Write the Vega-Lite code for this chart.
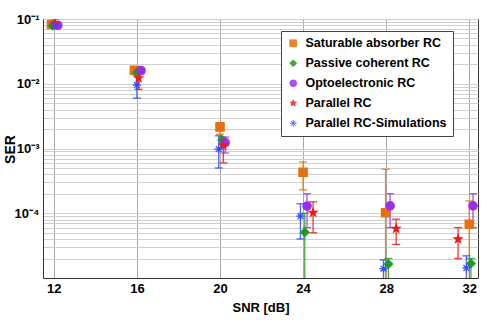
{
  "$schema": "https://vega.github.io/schema/vega-lite/v6.json",
  "width": 435,
  "height": 259,
  "autosize": {"type": "none"},
  "padding": {"left": 43, "top": 19, "right": 13, "bottom": 42},
  "background": "white",
  "config": {
    "font": "Liberation Sans",
    "view": {"stroke": "#333", "strokeWidth": 1},
    "axis": {"labelFont": "Liberation Sans", "labelFontWeight": "bold", "labelFontSize": 13, "labelColor": "black", "titleFont": "Liberation Sans", "titleFontWeight": "bold", "titleFontSize": 13, "titleColor": "black", "domainColor": "#333", "tickColor": "#333"}
  },
  "data": {"values": [
    {"series": "Saturable absorber RC", "x": 11.89, "y": 0.082, "lo": 0.075, "hi": 0.09},
    {"series": "Saturable absorber RC", "x": 15.88, "y": 0.0162, "lo": 0.015, "hi": 0.0175},
    {"series": "Saturable absorber RC", "x": 20.0, "y": 0.00215, "lo": 0.00166, "hi": 0.0025},
    {"series": "Saturable absorber RC", "x": 24.0, "y": 0.00043, "lo": 0.00023, "hi": 0.00062},
    {"series": "Saturable absorber RC", "x": 27.97, "y": 0.000102, "lo": 0.000001, "hi": 0.00048},
    {"series": "Saturable absorber RC", "x": 32.0, "y": 0.0000675, "lo": 0.000001, "hi": 0.000155},
    {"series": "Passive coherent RC", "x": 11.95, "y": 0.079, "lo": 0.074, "hi": 0.086},
    {"series": "Passive coherent RC", "x": 16.0, "y": 0.015, "lo": 0.014, "hi": 0.016},
    {"series": "Passive coherent RC", "x": 20.1, "y": 0.00135, "lo": 0.0012, "hi": 0.0015},
    {"series": "Passive coherent RC", "x": 24.08, "y": 0.000051, "lo": 0.000001, "hi": 0.0001},
    {"series": "Passive coherent RC", "x": 28.11, "y": 0.0000164, "lo": 0.000001, "hi": 0.00002},
    {"series": "Passive coherent RC", "x": 32.08, "y": 0.0000168, "lo": 0.000001, "hi": 0.00002},
    {"series": "Optoelectronic RC", "x": 12.19, "y": 0.08, "lo": 0.075, "hi": 0.086},
    {"series": "Optoelectronic RC", "x": 16.2, "y": 0.016, "lo": 0.0145, "hi": 0.0175},
    {"series": "Optoelectronic RC", "x": 20.25, "y": 0.00123, "lo": 0.00085, "hi": 0.0015},
    {"series": "Optoelectronic RC", "x": 24.19, "y": 0.000129, "lo": 0.00006, "hi": 0.0002},
    {"series": "Optoelectronic RC", "x": 28.19, "y": 0.00013, "lo": 0.00006, "hi": 0.0002},
    {"series": "Optoelectronic RC", "x": 32.18, "y": 0.00013, "lo": 0.00006, "hi": 0.0002},
    {"series": "Parallel RC", "x": 12.05, "y": 0.086, "lo": 0.078, "hi": 0.1},
    {"series": "Parallel RC", "x": 16.08, "y": 0.0122, "lo": 0.0082, "hi": 0.015},
    {"series": "Parallel RC", "x": 20.16, "y": 0.00112, "lo": 0.0006, "hi": 0.0014},
    {"series": "Parallel RC", "x": 24.48, "y": 0.000102, "lo": 0.00005, "hi": 0.00015},
    {"series": "Parallel RC", "x": 28.48, "y": 0.000058, "lo": 0.000033, "hi": 0.000081},
    {"series": "Parallel RC", "x": 31.46, "y": 0.00004, "lo": 0.00002, "hi": 0.00006},
    {"series": "Parallel RC-Simulations", "x": 12.05, "y": 0.08, "lo": 0.075, "hi": 0.086},
    {"series": "Parallel RC-Simulations", "x": 16.0, "y": 0.0095, "lo": 0.006, "hi": 0.0135},
    {"series": "Parallel RC-Simulations", "x": 19.94, "y": 0.00098, "lo": 0.0005, "hi": 0.00157},
    {"series": "Parallel RC-Simulations", "x": 23.87, "y": 0.00009, "lo": 0.00004, "hi": 0.00014},
    {"series": "Parallel RC-Simulations", "x": 27.87, "y": 0.000014, "lo": 0.000001, "hi": 0.000019},
    {"series": "Parallel RC-Simulations", "x": 31.86, "y": 0.0000143, "lo": 0.000001, "hi": 0.000022}
  ]},
  "encoding": {
    "x": {"field": "x", "type": "quantitative",
      "scale": {"domain": [11.48, 32.42], "nice": false, "zero": false},
      "axis": {"values": [12, 16, 20, 24, 28, 32], "title": "SNR [dB]", "titlePadding": 6, "labelPadding": 4, "tickSize": 0, "grid": true, "gridColor": "#a8a8a8", "gridWidth": 1}
    },
    "color": {"field": "series", "type": "nominal",
      "scale": {"domain": ["Saturable absorber RC", "Passive coherent RC", "Optoelectronic RC", "Parallel RC", "Parallel RC-Simulations"],
                "range": ["#E8700C", "#1E9A1E", "#9A2EF0", "#F01818", "#3050FF"]},
      "legend": {
        "title": null, "orient": "none", "legendX": 238, "legendY": 12,
        "fillColor": "white", "strokeColor": "#444", "padding": 6,
        "labelFont": "Liberation Sans", "labelFontWeight": "bold", "labelFontSize": 12.5, "labelColor": "black",
        "labelLimit": 300, "symbolSize": 45, "rowPadding": 7, "labelOffset": 6,
        "symbolStrokeWidth": 1,
        "encode": {"symbols": {"update": {"stroke": {"scale": "color", "field": "value"}}}}
      }
    }
  },
  "layer": [
    {
      "mark": {"type": "rule", "clip": true, "strokeWidth": 1.3, "opacity": 0.85},
      "encoding": {
        "y": {"field": "lo", "type": "quantitative",
          "scale": {"type": "log", "domain": [0.00001, 0.1], "nice": false},
          "axis": {"title": "SER", "titleFontSize": 14, "titleX": -33, "titleY": 130, "titleAngle": 270, "titleAlign": "center", "titleBaseline": "middle",
            "values": [0.00001,0.00002,0.00003,0.00004,0.00005,0.00006,0.00007,0.00008,0.00009,0.0001,0.0002,0.0003,0.0004,0.0005,0.0006,0.0007,0.0008,0.0009,0.001,0.002,0.003,0.004,0.005,0.006,0.007,0.008,0.009,0.01,0.02,0.03,0.04,0.05,0.06,0.07,0.08,0.09,0.1],
            "labelExpr": "datum.value > 0.095 ? '10⁻¹' : (datum.value > 0.0095 && datum.value < 0.0105) ? '10⁻²' : (datum.value > 0.00095 && datum.value < 0.00105) ? '10⁻³' : (datum.value > 0.000095 && datum.value < 0.000105) ? '10⁻⁴' : ''",
            "labelOverlap": false, "labelBound": false, "labelFontSize": 13, "labelPadding": 4, "tickSize": 0,
            "grid": true, "gridColor": "#cfcfcf", "gridWidth": 1}
        },
        "y2": {"field": "hi"}
      }
    },
    {
      "mark": {"type": "tick", "clip": true, "orient": "horizontal", "size": 8, "thickness": 1.3, "opacity": 0.85},
      "encoding": {"y": {"field": "lo", "type": "quantitative"}}
    },
    {
      "mark": {"type": "tick", "clip": true, "orient": "horizontal", "size": 8, "thickness": 1.3, "opacity": 0.85},
      "encoding": {"y": {"field": "hi", "type": "quantitative"}}
    },
    {
      "mark": {"type": "point", "filled": true, "opacity": 1, "size": 70, "strokeWidth": 1.2, "clip": true, "stroke": {"expr": "scale('color', datum.series)"}},
      "encoding": {
        "y": {"field": "y", "type": "quantitative"},
        "shape": {"field": "series", "type": "nominal",
          "scale": {"domain": ["Saturable absorber RC", "Passive coherent RC", "Optoelectronic RC", "Parallel RC", "Parallel RC-Simulations"],
                    "range": ["square", "diamond", "circle", "M0,-1L0.235,-0.324L0.951,-0.309L0.38,0.124L0.588,0.809L0,0.4L-0.588,0.809L-0.38,0.124L-0.951,-0.309L-0.235,-0.324Z", "M-1,0L1,0M0,-1L0,1M-0.7,-0.7L0.7,0.7M-0.7,0.7L0.7,-0.7"]}
        }
      }
    }
  ]
}
